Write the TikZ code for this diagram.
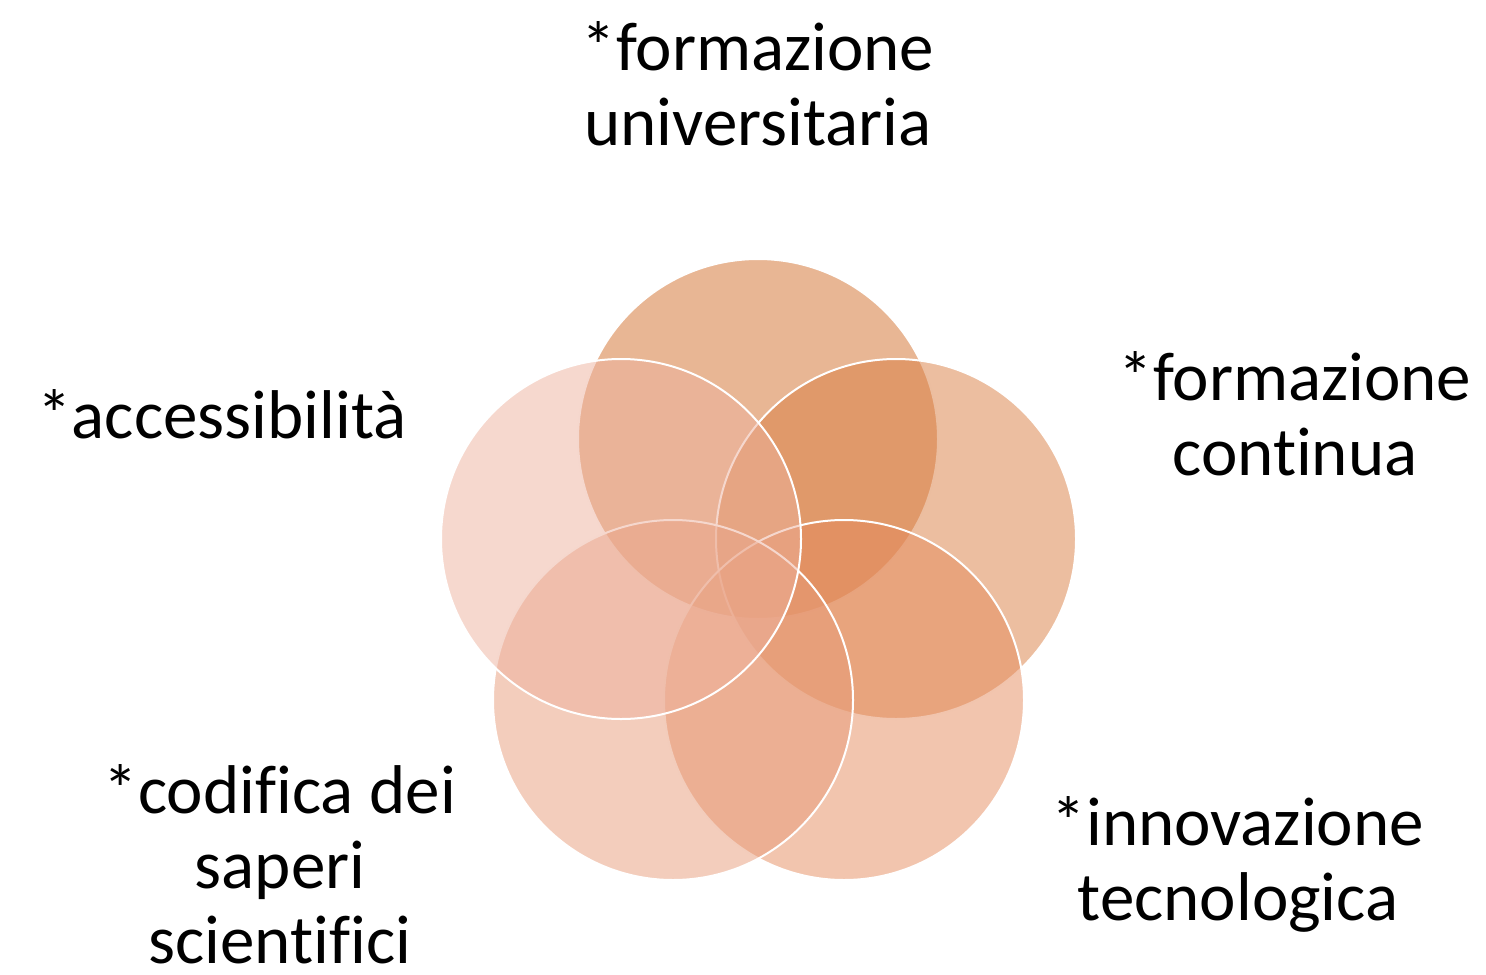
\documentclass[tikz,border=0pt]{standalone}
\usepackage{fontspec}
\setmainfont[Ligatures=NoCommon]{Carlito}
\usetikzlibrary{positioning}
\definecolor{petalA}{RGB}{209,109,41}
\definecolor{petalB}{RGB}{217,125,65}
\definecolor{petalC}{RGB}{229,139,93}
\definecolor{petalD}{RGB}{231,155,121}
\definecolor{petalE}{RGB}{237,177,157}
\tikzset{
	petal/.style={circle,minimum size=180pt,inner sep=0pt,draw=white,line width=1pt,fill=#1,fill opacity=0.5},
	lbl/.style={align=center,font=\fontsize{34.5pt}{37.5pt}\selectfont,text=black}
}
\begin{document}
\begin{tikzpicture}[x=0.5pt,y=-0.5pt]
\useasboundingbox (0,0) rectangle (1486,974);
\node[petal=petalA](top) at (758,439){};
\node[petal=petalB](right) at (896,539){};
\node[petal=petalC](botright) at (844,700){};
\node[petal=petalD](botleft) at (673,700){};
\node[petal=petalE](left) at (621,539){};
\node[lbl](ltop) at (758,84){*formazione\\universitaria};
\node[lbl](lright) at (1295,414){*formazione\\continua};
\node[lbl](lleft) at (222,414){*accessibilità};
\node[lbl](lbotleft) at (280,864){*codifica dei\\saperi\\scientifici};
\node[lbl](lbotright) at (1238,864){*innovazione\\tecnologica};
\end{tikzpicture}
\end{document}
